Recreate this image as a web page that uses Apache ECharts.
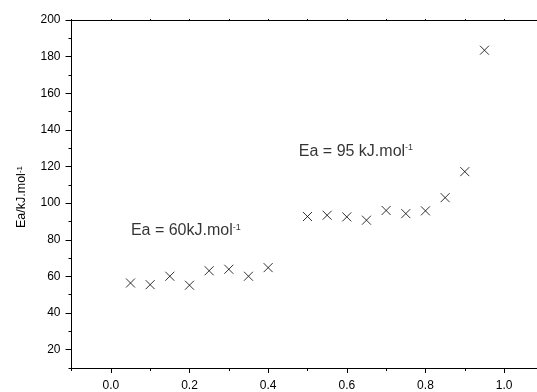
<!DOCTYPE html>
<html>
<head>
<meta charset="utf-8">
<script src="https://cdn.jsdelivr.net/npm/echarts@6/dist/echarts.min.js"></script>
<style>
html,body{margin:0;padding:0;background:#fff;}
#c{width:537px;height:392px;}
</style>
</head>
<body>
<div id="c"></div>
<script>
// Data
var conversion = [0.05, 0.10, 0.15, 0.20, 0.25, 0.30, 0.35, 0.40, 0.50, 0.55, 0.60, 0.65, 0.70, 0.75, 0.80, 0.85, 0.90, 0.95];
var ea = [56.4, 55.5, 60.1, 55.2, 63.1, 63.9, 60.1, 64.8, 92.7, 93.4, 92.5, 90.7, 96.0, 94.3, 95.8, 103.0, 117.2, 183.5];

var xMajorTicks = [0.0, 0.2, 0.4, 0.6, 0.8, 1.0];
var xMinorTicks = [-0.1, 0.1, 0.3, 0.5, 0.7, 0.9];
var yMajorTicks = [20, 40, 60, 80, 100, 120, 140, 160, 180, 200];
var yMinorTicks = [10, 30, 50, 70, 90, 110, 130, 150, 170, 190];

var annoText = ['Ea = 60kJ.mol', 'Ea = 95 kJ.mol'];
var annoX = [0.051, 0.478];
var annoY = [84.9, 128.3];

// visible x range (the original frame runs to 1.1, cropped at the picture's right edge)
var xMin = -0.1, xMaxVisible = 1.0836;

var FONT = '"Liberation Sans", Arial, sans-serif';
var chart = echarts.init(document.getElementById('c'), null, {renderer: 'canvas'});

var points = conversion.map(function (x, i) { return [x, ea[i]]; });
var annos = annoText.map(function (t, i) { return {value: [annoX[i], annoY[i]], name: t}; });

var option = {
  backgroundColor: '#fff',
  animation: false,
  grid: {left: 71.5, top: 20, bottom: 22, right: 0},
  xAxis: [{
    type: 'value', min: xMin, max: xMaxVisible, position: 'bottom',
    axisLine: {show: true, onZero: false, lineStyle: {color: '#000', width: 1}},
    axisTick: {show: true, customValues: xMajorTicks, length: 5, inside: false, lineStyle: {color: '#000'}},
    axisLabel: {show: true, customValues: xMajorTicks, margin: 12, color: '#000', fontSize: 12, fontFamily: FONT,
      formatter: function (v) { return v.toFixed(1); }},
    splitLine: {show: false}
  }, {
    type: 'value', min: xMin, max: xMaxVisible, position: 'bottom',
    axisLine: {show: false, onZero: false},
    axisTick: {show: true, customValues: xMinorTicks, length: 3, lineStyle: {color: '#000'}},
    axisLabel: {show: false},
    splitLine: {show: false}
  }, {
    type: 'value', min: xMin, max: xMaxVisible, position: 'top',
    axisLine: {show: true, onZero: false, lineStyle: {color: '#000', width: 1}},
    axisTick: {show: true, customValues: xMajorTicks.concat(xMinorTicks), length: 1, lineStyle: {color: '#000'}},
    axisLabel: {show: false},
    splitLine: {show: false}
  }],
  yAxis: [{
    type: 'value', min: 10, max: 200, interval: 10, position: 'left',
    name: 'Ea/kJ.mol{s|-1}', nameLocation: 'middle', nameGap: 43, nameRotate: 90,
    nameTextStyle: {color: '#000', fontSize: 12.5, fontFamily: FONT, padding: [0, 6, 0, 0],
      rich: {s: {fontSize: 8, verticalAlign: 'top', color: '#000', fontFamily: FONT}}},
    axisLine: {show: true, onZero: false, lineStyle: {color: '#000', width: 1}},
    axisTick: {show: true, customValues: yMajorTicks, length: 6, lineStyle: {color: '#000'}},
    axisLabel: {show: true, customValues: yMajorTicks, margin: 11, color: '#000', fontSize: 12, fontFamily: FONT},
    splitLine: {show: false}
  }, {
    type: 'value', min: 10, max: 200, interval: 10, position: 'left',
    axisLine: {show: false, onZero: false},
    axisTick: {show: true, customValues: yMinorTicks, length: 3, lineStyle: {color: '#000'}},
    axisLabel: {show: false},
    splitLine: {show: false}
  }],
  series: [{
    type: 'scatter',
    xAxisIndex: 0, yAxisIndex: 0,
    data: points,
    symbol: 'path://M0,0L10,10M10,0L0,10',
    symbolSize: 9,
    itemStyle: {color: '#000', borderColor: '#000', borderWidth: 1},
    emphasis: {disabled: true}
  }, {
    type: 'scatter',
    xAxisIndex: 0, yAxisIndex: 0,
    data: annos,
    symbolSize: 0,
    label: {
      show: true, position: 'right', distance: 0,
      formatter: function (p) { return p.name + '{s|-1}'; },
      color: '#000', fontSize: 16, fontFamily: FONT,
      rich: {s: {fontSize: 9, verticalAlign: 'top', color: '#000', fontFamily: FONT}}
    },
    emphasis: {disabled: true}
  }]
};
chart.setOption(option);
</script>
</body>
</html>
